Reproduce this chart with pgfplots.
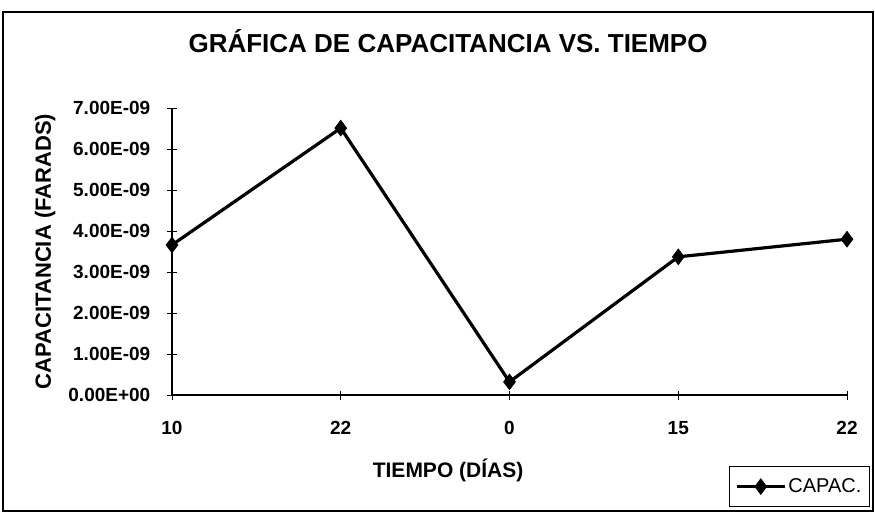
\documentclass[border=0pt]{standalone}
\usepackage{fontspec}
\setmainfont{Liberation Sans}
\usepackage{pgfplots}
\pgfplotsset{compat=1.18}
\begin{document}
\begin{tikzpicture}[x=1pt,y=1pt]
\useasboundingbox (0,0) rectangle (875,515);
\draw[line width=1.2pt] (3,4) rectangle (873,503);
\begin{axis}[
  at={(172pt,120pt)}, anchor=south west,
  scale only axis, width=675pt, height=287pt,
  xmin=0, xmax=4, ymin=0, ymax=7e-9,
  axis lines=left, axis line style={-, line width=1.2pt},
  xtick={0,1,2,3,4}, xticklabels={10,22,0,15,22},
  ytick={0,1e-9,2e-9,3e-9,4e-9,5e-9,6e-9,7e-9},
  yticklabels={0.00E+00,1.00E-09,2.00E-09,3.00E-09,4.00E-09,5.00E-09,6.00E-09,7.00E-09},
  tick style={black, line width=0.9pt},
  major tick length=9pt,
  tick align=center,
  ticklabel style={font=\fontsize{19}{19}\selectfont\bfseries, inner sep=0pt},
  xticklabel style={anchor=base, yshift=-35pt},
  yticklabel style={anchor=east, xshift=-17pt},
  scaled y ticks=false,
  title={GRÁFICA DE CAPACITANCIA VS. TIEMPO},
  title style={font=\fontsize{26}{26}\selectfont\bfseries, at={(0.409,1.0)}, yshift=61pt, anchor=center, inner sep=0pt},
  xlabel={TIEMPO (DÍAS)},
  xlabel style={font=\fontsize{21}{21}\selectfont\bfseries, at={(0.409,0)}, yshift=-75pt, anchor=center, inner sep=0pt},
  ylabel={CAPACITANCIA (FARADS)},
  ylabel style={font=\fontsize{22}{22}\selectfont\bfseries, at={(-0.188,0.5)}, anchor=center, rotate=0, inner sep=0pt},
  legend style={at={(1.034,-0.39)}, anchor=south east, draw=black, line width=1.2pt,
    font=\fontsize{20}{20}\selectfont, inner xsep=6pt, inner ysep=10pt, legend cell align=left},
  legend image code/.code={\draw[mark repeat=2, mark phase=2, #1] plot coordinates {(0pt,0pt) (24pt,0pt) (48pt,0pt)};},
  clip=false,
]
\addplot[black, line width=3.2pt, mark=diamond*, mark size=8pt, mark options={line width=0.5pt}]
  coordinates {(0,3.66e-9) (1,6.51e-9) (2,0.32e-9) (3,3.37e-9) (4,3.80e-9)};
\addlegendentry{CAPAC.}
\end{axis}
\end{tikzpicture}
\end{document}
